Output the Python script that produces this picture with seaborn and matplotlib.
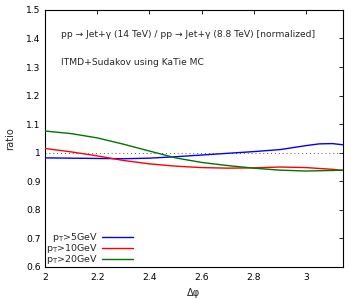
import numpy as np
import pandas as pd
import matplotlib
matplotlib.use("Agg")
import matplotlib.pyplot as plt
import seaborn as sns
from matplotlib.lines import Line2D

dphi = [2.0, 2.1, 2.2, 2.3, 2.4, 2.5, 2.6, 2.7, 2.8, 2.9, 3.0, 3.05, 3.1, 3.14]
ratio_pt5 = [0.982, 0.981, 0.980, 0.979, 0.981, 0.986, 0.992, 0.998, 1.004, 1.011, 1.025, 1.031, 1.032, 1.028]
ratio_pt10 = [1.015, 1.003, 0.989, 0.973, 0.961, 0.953, 0.948, 0.946, 0.947, 0.950, 0.948, 0.945, 0.942, 0.938]
ratio_pt20 = [1.076, 1.067, 1.052, 1.030, 1.006, 0.982, 0.966, 0.955, 0.946, 0.939, 0.936, 0.937, 0.938, 0.939]
series_labels = [r"p$_\mathrm{T}$>5GeV", r"p$_\mathrm{T}$>10GeV", r"p$_\mathrm{T}$>20GeV"]
series_colors = ["#0000ff", "#ff0000", "#007400"]
xticks = [2, 2.2, 2.4, 2.6, 2.8, 3]
xticklabels = ["2", "2.2", "2.4", "2.6", "2.8", "3"]
yticks = [0.6, 0.7, 0.8, 0.9, 1.0, 1.1, 1.2, 1.3, 1.4, 1.5]
yticklabels = ["0.6", "0.7", "0.8", "0.9", "1", "1.1", "1.2", "1.3", "1.4", "1.5"]
title_line1 = "pp → Jet+γ (14 TeV) / pp → Jet+γ (8.8 TeV) [normalized]"
title_line2 = "ITMD+Sudakov using KaTie MC"

df = pd.DataFrame({
    "dphi": dphi * 3,
    "ratio": ratio_pt5 + ratio_pt10 + ratio_pt20,
    "series": [series_labels[0]] * len(dphi) + [series_labels[1]] * len(dphi) + [series_labels[2]] * len(dphi),
})

sns.set_style("white")
plt.rcParams["font.family"] = ["DejaVu Sans"]
fs = 6.6

fig = plt.figure(figsize=(3.6, 3.0), dpi=100)
ax = fig.add_axes([0.125, 0.11, 0.828, 0.857])

ax.axhline(1.0, color="#555555", lw=0.7, ls=(0, (1, 3)), zorder=1)
sns.lineplot(data=df, x="dphi", y="ratio", hue="series", palette=dict(zip(series_labels, series_colors)),
             lw=1.0, ax=ax, legend=False, zorder=3)

ax.set_xlim(2, np.pi)
ax.set_ylim(0.6, 1.5)
ax.set_xticks(xticks)
ax.set_xticklabels(xticklabels, fontsize=fs)
ax.set_yticks(yticks)
ax.set_yticklabels(yticklabels, fontsize=fs)
ax.tick_params(direction="in", length=3, width=0.6, top=True, right=True, pad=3, colors="black")
ax.tick_params(axis="x", pad=4.5)
for s in ax.spines.values():
    s.set_color("black")
    s.set_linewidth(0.8)
ax.set_xlabel("Δφ", fontsize=fs + 0.5, labelpad=4.5)
ax.set_ylabel("ratio", fontsize=fs + 0.5, labelpad=8)

ax.text(0.054, 0.903, title_line1, transform=ax.transAxes, fontsize=fs, va="center", ha="left")
ax.text(0.054, 0.797, title_line2, transform=ax.transAxes, fontsize=fs, va="center", ha="left")

handles = [Line2D([0], [0], color=c, lw=1.0) for c in series_colors]
leg = ax.legend(handles, series_labels, loc="lower left", bbox_to_anchor=(0.0, 0.0), frameon=False,
                markerfirst=False, fontsize=fs + 0.2, handlelength=3.3, handletextpad=0.45,
                labelspacing=-0.2, borderaxespad=0.0, borderpad=0.1)
for t in leg.get_texts():
    t.set_ha("right")

fig.savefig("out.png", dpi=100)
